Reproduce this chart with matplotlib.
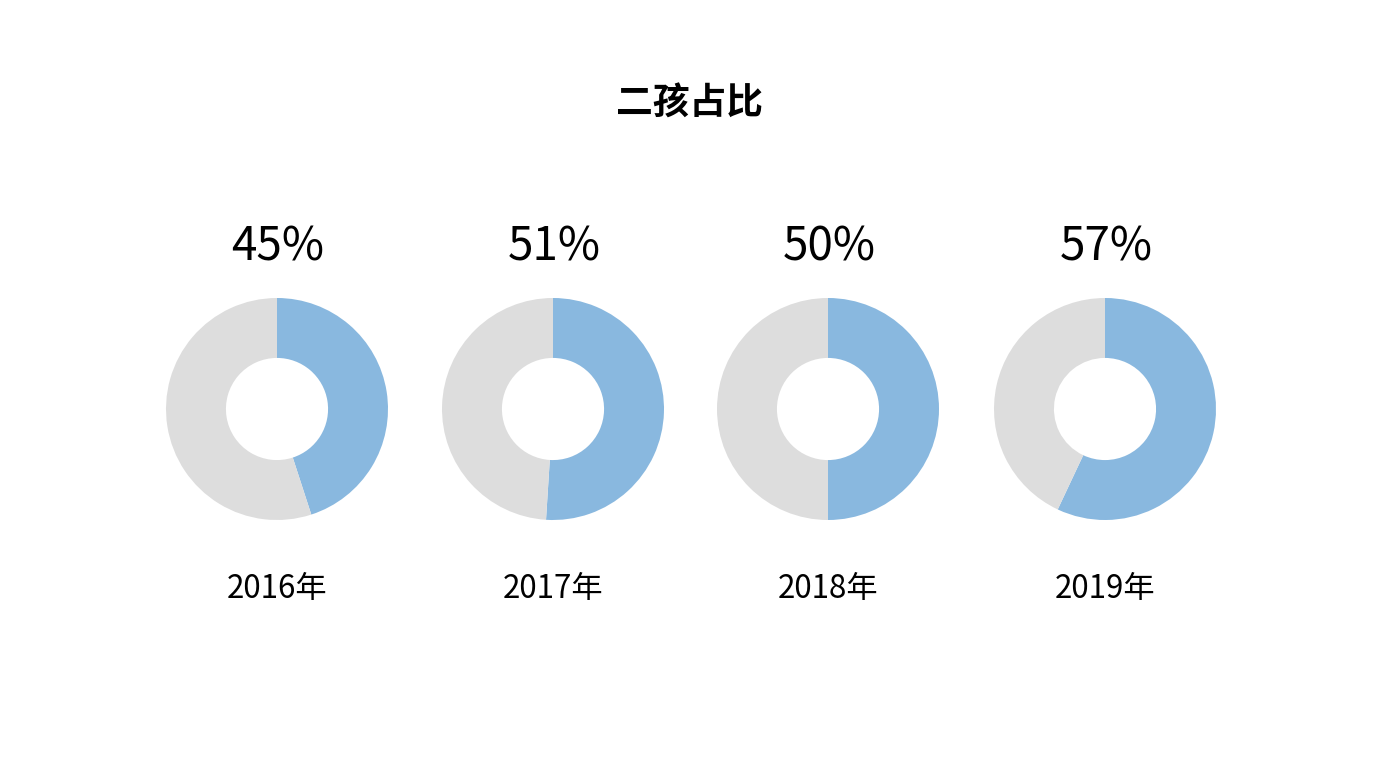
import matplotlib.pyplot as plt

plt.rcParams['font.family'] = ['Noto Sans CJK SC', 'DejaVu Sans']

# data
years = ['2016年', '2017年', '2018年', '2019年']
shares = [45, 51, 50, 57]
title = '二孩占比'

blue = '#89b8df'
grey = '#dddddd'

fig = plt.figure(figsize=(13.82, 7.78), dpi=100)
ax = fig.add_axes([0, 0, 1, 1])

centers_x = [277, 553, 828, 1105]
cy = 778 - 409
r_out = 111
ring = 0.54

for x, s, yr in zip(centers_x, shares, years):
    ax.pie([s, 100 - s], colors=[blue, grey], startangle=90, counterclock=False,
           radius=r_out, center=(x, cy),
           wedgeprops=dict(width=r_out * ring, linewidth=0), frame=True)
    ax.text(x + 1, 778 - 247, f'{s}%', ha='center', va='center', fontsize=33)
    ax.text(x, 778 - 589, yr, ha='center', va='center', fontsize=22.5)

ax.set_xlim(0, 1382)
ax.set_ylim(0, 778)
ax.set_aspect('equal')
ax.axis('off')

fig.text(690 / 1382, 1 - 104 / 778, title, ha='center', va='center',
         fontsize=26.5, fontweight='bold')

fig.savefig('out.png', dpi=100)
